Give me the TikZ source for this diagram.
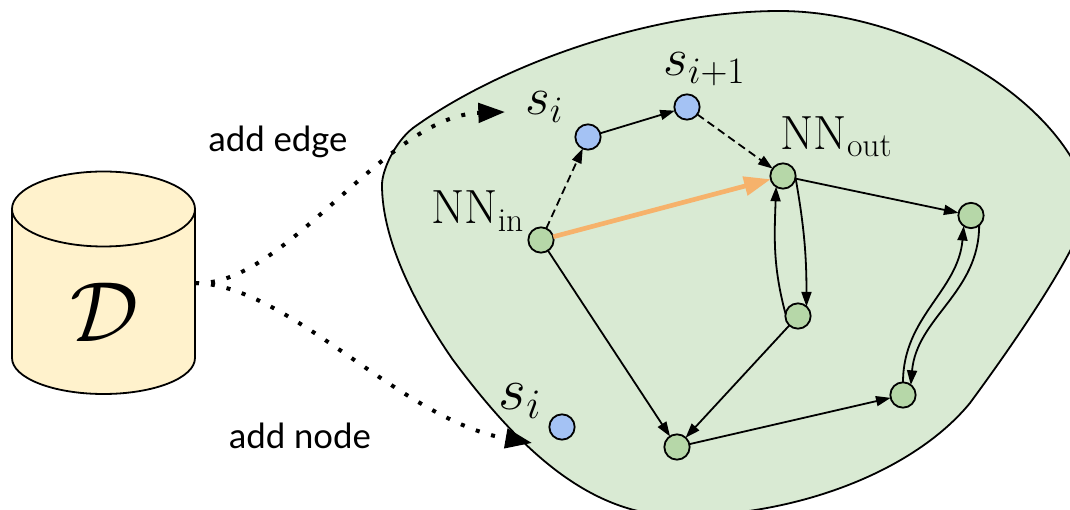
\documentclass[tikz,border=0pt]{standalone}
\usepackage{fix-cm}
\usepackage{amsmath}
\usepackage{fontspec}
\setsansfont{Lato}
\usetikzlibrary{arrows.meta,positioning}
\definecolor{blobgreen}{HTML}{D9EAD3}
\definecolor{nodegreen}{HTML}{B6D7A8}
\definecolor{nodeblue}{HTML}{A4C2F4}
\definecolor{dbyellow}{HTML}{FFF2CC}
\definecolor{bestorange}{HTML}{F6B26B}
\tikzset{
  cell/.style={circle, draw=black, line width=1.35pt, fill=#1, minimum size=19pt, inner sep=0pt, outer sep=0pt},
  lbl/.style={inner sep=0pt, outer sep=0pt, font=\fontsize{#1}{#1}\selectfont},
  arr/.style={-{Triangle[length=11pt,width=7.5pt]}, line width=1.35pt},
  dasharr/.style={arr, dash pattern=on 6pt off 3.5pt},
  feed/.style={-{Triangle[length=20pt,width=14.5pt]}, line width=3pt, dash pattern=on 3pt off 9pt},
  best/.style={-{Triangle[length=20pt,width=14pt]}, line width=3.5pt, draw=bestorange},
  caption/.style={font=\sffamily\fontsize{26}{26}\selectfont, inner sep=0pt},
}
\begin{document}
\begin{tikzpicture}[x=0.75pt,y=0.75pt]
  \useasboundingbox (0,0) rectangle (1070,510);
  % search space
  \draw[line width=1.35pt, fill=blobgreen] (382,325)
    .. controls (382,340) and (395,368) .. (413,382)
    .. controls (500,445) and (650,499) .. (780,499)
    .. controls (900,499) and (1060,420) .. (1090,310)
    .. controls (1085,270) and (1020,175) .. (970,107)
    .. controls (915,40) and (800,-6) .. (680,-6)
    .. controls (590,-6) and (520,60) .. (453,150)
    .. controls (415,205) and (382,270) .. (382,325) -- cycle;
  % database
  \draw[line width=1.35pt, fill=dbyellow] (12,301) -- (12,152)
    arc[x radius=91.5, y radius=36, start angle=180, end angle=360] -- (195,301)
    arc[x radius=91.5, y radius=37.5, start angle=0, end angle=180] -- cycle;
  \draw[line width=1.35pt] (12,301) arc[x radius=91.5, y radius=37.5, start angle=180, end angle=360];
  \node[lbl=64] (dbname) at (105,198) {$\mathcal{D}$};
  \coordinate (dbport) at (195,227);
  % graph
  \node[cell=nodegreen] (in) at (541,270) {};
  \node[cell=nodeblue] (si) at (588,373) {};
  \node[cell=nodeblue] (sj) at (687,403) {};
  \node[cell=nodegreen] (out) at (783,334) {};
  \node[cell=nodegreen] (r) at (971,294.5) {};
  \node[cell=nodegreen] (m) at (798,194) {};
  \node[cell=nodegreen] (b) at (677,63) {};
  \node[cell=nodegreen] (br) at (903,115) {};
  \node[cell=nodeblue] (new) at (562,83) {};
  % labels
  \node[lbl=36, above left=0pt and 6pt of in] (inname) {$\mathrm{NN}_{\mathrm{in}}$};
  \node[lbl=36, above=5pt of out, xshift=40pt] (outname) {$\mathrm{NN}_{\mathrm{out}}$};
  \node[lbl=40, above left=4pt and 12pt of si] (siname) {$s_i$};
  \node[lbl=40, above=6pt of sj, xshift=13pt] (sjname) {$s_{i+1}$};
  \node[lbl=45, above left=0pt and 9pt of new] (newname) {$s_i$};
  \node[caption] (addedge) at (278,368) {add edge};
  \node[caption] (addnode) at (300,74) {add node};
  % edges
  \draw[dasharr] (in) -- (si);
  \draw[arr] (si) -- (sj);
  \draw[dasharr] (sj) -- (out);
  \draw[best] (in) -- (out);
  \draw[arr] (out) -- (r);
  \draw[arr] (in) -- (b);
  \draw[arr] (m) -- (b);
  \draw[arr] (b) -- (br);
  \draw[arr] (out.-8) to[out=-80,in=90] (m.48);
  \draw[arr] (m.170) to[out=105,in=-92] (out.-123);
  \draw[arr] (br.90) to[out=90,in=-95] (r.-125);
  \draw[arr] (r.-50) to[out=-90,in=85] (br.52);
  % feeding the space
  \coordinate (edgetip) at (505,398);
  \coordinate (nodetip) at (532,67);
  \draw[feed] (dbport) .. controls (285,222) and (385,394) .. (edgetip);
  \draw[feed] (dbport) .. controls (290,225) and (400,90) .. (nodetip);
\end{tikzpicture}
\end{document}
